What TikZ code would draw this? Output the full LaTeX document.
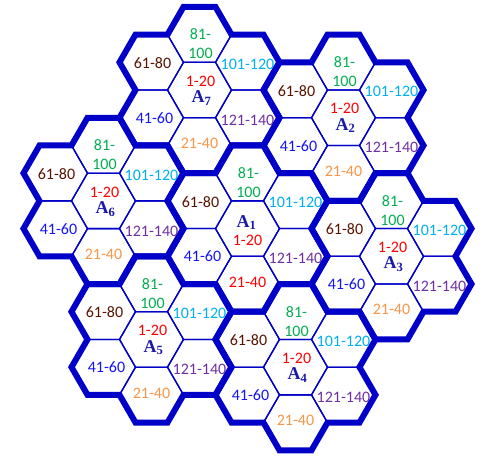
\documentclass[tikz,border=0pt]{standalone}
\usepackage{fontspec}
\setmainfont{Carlito}
\newfontfamily\lblfont{Liberation Serif}
\usetikzlibrary{calc}
\definecolor{hexblue}{RGB}{0,0,200}
\definecolor{cgreen}{RGB}{0,176,80}
\definecolor{clblue}{RGB}{0,176,240}
\definecolor{cpurple}{RGB}{112,48,160}
\definecolor{corange}{RGB}{247,150,70}
\definecolor{cblue}{RGB}{20,20,245}
\definecolor{cbrown}{RGB}{89,20,0}
\definecolor{cred}{RGB}{255,0,0}
\definecolor{cnavy}{RGB}{25,25,170}
\tikzset{
  thinhex/.style={draw=hexblue,line width=1.3pt,line join=miter},
  thickhex/.style={draw=hexblue,line width=6pt,line join=miter,line cap=round},
  numlbl/.style={font=\fontsize{16}{19}\selectfont,inner sep=0pt,align=center},
  alabel/.style={font=\fontsize{18}{19}\lblfont\bfseries,text=cnavy,inner sep=0pt}
}
\newcommand\drawcluster[4]{%
  \coordinate (#1) at (#2,#3);
  \foreach \dx/\dy in {0/0,0/-55.43,48/-27.71,48/27.71,0/55.43,-48/27.71,-48/-27.71}{
    \draw[thinhex] ($(#1)+(\dx,\dy)+(32,0)$) -- ++(-16,-27.71) -- ++(-32,0)
      -- ++(-16,27.71) -- ++(16,27.71) -- ++(32,0) -- cycle;
  }
  \draw[thickhex] ($(#1)+(90:55.43)+(0:32)$)
    \foreach \t in {90,150,210,270,330,30}{
      -- ($(#1)+(\t:55.43)+(\t-30:32)$)
      -- ($(#1)+(\t:55.43)+(\t+30:32)$)
      -- ($(#1)+(\t:55.43)+(\t+90:32)$)
    } -- cycle;
  \node[numlbl,text=cgreen] (#1t) at ($(#1)+(1,-46)$) {81-\\100};
  \node[numlbl,text=clblue] (#1ur) at ($(#1)+(48,-26)$) {101-120};
  \node[numlbl,text=cpurple] (#1lr) at ($(#1)+(48,30)$) {121-140};
  \node[numlbl,text=#4] (#1b) at ($(#1)+(0,53.5)$) {21-40};
  \node[numlbl,text=cblue] (#1ll) at ($(#1)+(-45,28)$) {41-60};
  \node[numlbl,text=cbrown] (#1ul) at ($(#1)+(-47,-27)$) {61-80};
}
\begin{document}
\begin{tikzpicture}[x=1pt,y=-1pt]
\useasboundingbox (0,0) rectangle (483,457);
\fill[white] (0,0) rectangle (483,457);
\drawcluster{c1}{247.5}{228.6}{cred}
\drawcluster{c7}{199.5}{90.04}{corange}
\drawcluster{c2}{343.5}{117.75}{corange}
\drawcluster{c3}{391.5}{256.3}{corange}
\drawcluster{c4}{295.5}{367.16}{corange}
\drawcluster{c5}{151.5}{339.45}{corange}
\drawcluster{c6}{103.5}{200.9}{corange}
% centre labels
\node[alabel] (c1a) at ($(c1)+(-1,-6)$) {A\textsubscript{1}};
\node[numlbl,text=cred] (c1n) at ($(c1)+(0,12)$) {1-20};
\foreach \c/\i in {c2/2,c3/3,c4/4,c5/5,c6/6,c7/7}{
  \node[numlbl,text=cred] (\c n) at ($(\c)+(1,-9)$) {1-20};
  \node[alabel] (\c a) at ($(\c)+(2,8)$) {A\textsubscript{\i}};
}
\end{tikzpicture}
\end{document}
